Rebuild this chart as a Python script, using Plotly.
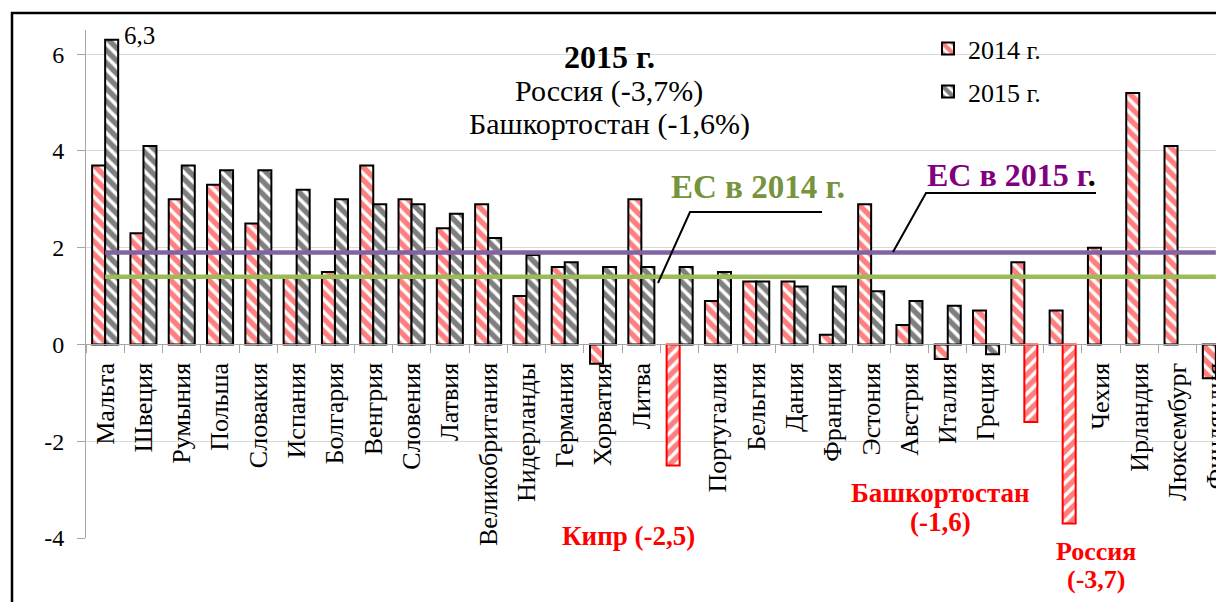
import plotly.graph_objects as go

categories = ["Мальта", "Швеция", "Румыния", "Польша", "Словакия", "Испания", "Болгария",
              "Венгрия", "Словения", "Латвия", "Великобритания", "Нидерланды", "Германия",
              "Хорватия", "Литва", "Кипр", "Португалия", "Бельгия", "Дания", "Франция",
              "Эстония", "Австрия", "Италия", "Греция", "Башкортостан", "Россия", "Чехия",
              "Ирландия", "Люксембург", "Финляндия"]
tick_labels = ["Мальта", "Швеция", "Румыния", "Польша", "Словакия", "Испания", "Болгария",
               "Венгрия", "Словения", "Латвия", "Великобритания", "Нидерланды", "Германия",
               "Хорватия", "Литва", "", "Португалия", "Бельгия", "Дания", "Франция",
               "Эстония", "Австрия", "Италия", "Греция", "", "", "Чехия",
               "Ирландия", "Люксембург", "Финляндия"]
values_2014 = [3.7, 2.3, 3.0, 3.3, 2.5, 1.4, 1.5, 3.7, 3.0, 2.4, 2.9, 1.0, 1.6, -0.4, 3.0,
               -2.5, 0.9, 1.3, 1.3, 0.2, 2.9, 0.4, -0.3, 0.7, 1.7, 0.7, 2.0, 5.2, 4.1, -0.7]
values_2015 = [6.3, 4.1, 3.7, 3.6, 3.6, 3.2, 3.0, 2.9, 2.9, 2.7, 2.2, 1.85, 1.7, 1.6, 1.6,
               1.6, 1.5, 1.3, 1.2, 1.2, 1.1, 0.9, 0.8, -0.2, -1.6, -3.7, None, None, None, None]
highlight_2014 = ["Кипр"]
highlight_2015 = ["Башкортостан", "Россия"]
eu_2014 = 1.4
eu_2015 = 1.9
y_tick_vals = [-4, -2, 0, 2, 4, 6]
y_tick_text = ["-4", "-2", "0", "2", "4", "6"]

# page body has an 8px margin: screen coords = figure coords + 8
OFF = 8
W, H = 1224, 602
L, T = 86 - OFF, 30 - OFF
B = H - (538 - OFF)
PW, PH = W - L, H - T - B
cat_px = 38.3
x_range = [-0.5, -0.5 + PW / cat_px]
y_range = [-4, 6.5]

def px(xs):
    return (xs - OFF - L) / PW

def py(ys):
    return (H - B - (ys - OFF)) / PH

RED = "#FF0000"
SERIF = "Liberation Serif, Times New Roman, serif"

def styles(cats, highlight, base_fg):
    shapes = ["/" if c in highlight else "\\" for c in cats]
    fg = [RED if c in highlight else base_fg for c in cats]
    lc = [RED if c in highlight else "black" for c in cats]
    return shapes, fg, lc

s14, f14, l14 = styles(categories, highlight_2014, RED)
s15, f15, l15 = styles(categories, highlight_2015, "black")

fig = go.Figure()
fig.add_trace(go.Bar(
    x=categories, y=values_2014, name="2014 г.", legend="legend",
    marker=dict(color="white", line=dict(color=l14, width=2),
                pattern=dict(shape=s14, fgcolor=f14, bgcolor="white", size=9, solidity=0.6)),
))
fig.add_trace(go.Bar(
    x=categories, y=values_2015, name="2015 г.", legend="legend2",
    marker=dict(color="white", line=dict(color=l15, width=2),
                pattern=dict(shape=s15, fgcolor=f15, bgcolor="white", size=9, solidity=0.6)),
))
fig.add_trace(go.Scatter(x=[categories[0], categories[-1]], y=[eu_2015, eu_2015], mode="lines",
                         line=dict(color="#8064A2", width=4.5), showlegend=False))
fig.add_trace(go.Scatter(x=[categories[0], categories[-1]], y=[eu_2014, eu_2014], mode="lines",
                         line=dict(color="#9BBB59", width=4.5), showlegend=False))

shapes = [
    dict(type="rect", xref="paper", yref="paper", x0=px(422), x1=px(794), y0=py(160), y1=py(30),
         fillcolor="white", line=dict(width=0), layer="between"),
    dict(type="rect", xref="paper", yref="paper", x0=px(897), x1=px(1082), y0=py(118), y1=py(30),
         fillcolor="white", line=dict(width=0), layer="between"),
    dict(type="path", xref="paper", yref="paper",
         path=f"M {px(822)} {py(212)} L {px(690)} {py(212)} L {px(658)} {py(283)}",
         line=dict(color="black", width=2)),
    dict(type="path", xref="paper", yref="paper",
         path=f"M {px(1096)} {py(193)} L {px(926)} {py(193)} L {px(893)} {py(252)}",
         line=dict(color="black", width=2)),
    dict(type="line", xref="paper", yref="paper", x0=px(11), x1=px(1240), y0=py(13), y1=py(13),
         line=dict(color="black", width=2.5)),
    dict(type="line", xref="paper", yref="paper", x0=px(12), x1=px(12), y0=py(12), y1=py(620),
         line=dict(color="black", width=2.5)),
]

def ann(text, xc, yc, size, color="black"):
    return dict(text=text, xref="paper", yref="paper", x=px(xc), y=py(yc), xanchor="center",
                yanchor="middle", showarrow=False, font=dict(family=SERIF, size=size, color=color))

annotations = [
    ann("6,3", 139, 36, 25),
    ann("<b>2015 г.</b>", 609, 57, 32),
    ann("Россия (-3,7%)", 609, 91, 30),
    ann("Башкортостан (-1,6%)", 609, 124, 30),
    ann("<b>ЕС в 2014 г.</b>", 758, 187, 33, "#77933C"),
    ann("<b>ЕС в 2015 г<span style='color:black'>.</span></b>", 1011, 175, 32, "#800080"),
    ann("<b>Кипр (-2,5)</b>", 628, 536, 27, RED),
    ann("<b>Башкортостан</b>", 940, 493, 27, RED),
    ann("<b>(-1,6)</b>", 940, 522, 27, RED),
    ann("<b>Россия</b>", 1096, 551, 26, RED),
    ann("<b>(-3,7)</b>", 1096, 579, 26, RED),
]

fig.update_layout(
    width=W, height=H,
    margin=dict(l=L, r=0, t=T, b=B),
    paper_bgcolor="white", plot_bgcolor="white",
    barmode="group", bargap=0.32, bargroupgap=0,
    font=dict(family=SERIF, color="black"),
    shapes=shapes, annotations=annotations,
    legend=dict(x=px(928), y=py(25), xanchor="left", yanchor="top", bgcolor="rgba(0,0,0,0)",
                font=dict(family=SERIF, size=26)),
    legend2=dict(x=px(928), y=py(68), xanchor="left", yanchor="top", bgcolor="rgba(0,0,0,0)",
                 font=dict(family=SERIF, size=26)),
    xaxis=dict(type="category", range=x_range, anchor="free",
               position=(0 - y_range[0]) / (y_range[1] - y_range[0]),
               tickmode="array", tickvals=categories, ticktext=tick_labels, tickangle=-90,
               tickson="boundaries", ticks="outside", ticklen=8, tickcolor="#A6A6A6",
               showline=True, linecolor="#A6A6A6", linewidth=1, showgrid=False,
               tickfont=dict(family=SERIF, size=26), ticklabelstandoff=7),
    yaxis=dict(range=y_range, tickmode="array", tickvals=y_tick_vals, ticktext=y_tick_text,
               ticks="outside", ticklen=8,
               tickcolor="#A6A6A6", showline=True, linecolor="#A6A6A6", linewidth=1,
               showgrid=True, gridcolor="#D9D9D9", gridwidth=1, zeroline=False,
               tickfont=dict(family=SERIF, size=24), ticklabelstandoff=8),
    showlegend=True,
)

fig.write_html("out.html")
